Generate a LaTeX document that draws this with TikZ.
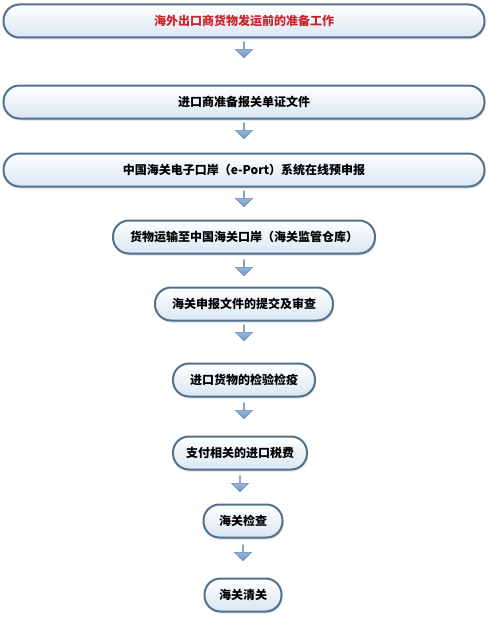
\documentclass[tikz,border=0pt]{standalone}
\usepackage{fontspec}
\newfontfamily\cjkfont{Noto Sans CJK SC}
\usetikzlibrary{positioning,shapes.arrows,shadows}

\definecolor{boxline}{HTML}{52718E}
\definecolor{boxfill}{HTML}{DAE6F2}
\definecolor{titlered}{HTML}{C8242B}
\definecolor{arrowtop}{HTML}{B4CDEA}
\definecolor{arrowbot}{HTML}{7098C9}
\definecolor{arrowline}{HTML}{6A88AE}

\tikzset{
  stepbox/.style={draw=boxline, line width=2pt, rounded corners=16pt,
    top color=white, bottom color=boxfill, minimum height=33pt, inner sep=2pt,
    font=\cjkfont\bfseries\fontsize{12}{14}\selectfont,
    drop shadow={opacity=0.25, shadow xshift=1pt, shadow yshift=-2pt}},
  downarrow/.style={single arrow, shape border rotate=270, draw=arrowline,
    line width=0.6pt, top color=arrowtop, bottom color=arrowbot,
    minimum width=17pt, minimum height=16pt, single arrow head extend=3.5pt,
    inner sep=0pt}
}

\begin{document}
\begin{tikzpicture}[x=1pt,y=1pt]

\useasboundingbox[fill=white] (0,0) rectangle (489,-626);

% the steps, top to bottom
\node[stepbox, minimum width=481pt, text=titlered] (prep) at (244,-21) {海外出口商货物发运前的准备工作};
\node[stepbox, minimum width=481pt] (docs) at (244,-102) {进口商准备报关单证文件};
\node[stepbox, minimum width=481pt] (eport) at (244,-170) {中国海关电子口岸（e-Port）系统在线预申报};
\node[stepbox, minimum width=262pt] (ship) at (244,-237) {货物运输至中国海关口岸（海关监管仓库）};
\node[stepbox, minimum width=178pt] (submit) at (244,-304) {海关申报文件的提交及审查};
\node[stepbox, minimum width=142pt] (inspq) at (244,-380) {进口货物的检验检疫};
\node[stepbox, minimum width=134pt] (tax) at (240,-453) {支付相关的进口税费};
\node[stepbox, minimum width=79pt] (check) at (243,-521) {海关检查};
\node[stepbox, minimum width=77pt] (clear) at (243,-595) {海关清关};

% small block arrows under each box
\node[downarrow, below=3pt of prep] (a1) {};
\node[downarrow, below=3pt of docs] (a2) {};
\node[downarrow, below=3pt of eport] (a3) {};
\node[downarrow, below=5pt of ship] (a4) {};
\node[downarrow, below=3pt of submit] (a5) {};
\node[downarrow, below=5pt of inspq] (a6) {};
\node[downarrow, below=5pt of tax] (a7) {};
\node[downarrow, below=6pt of check] (a8) {};

\end{tikzpicture}
\end{document}
